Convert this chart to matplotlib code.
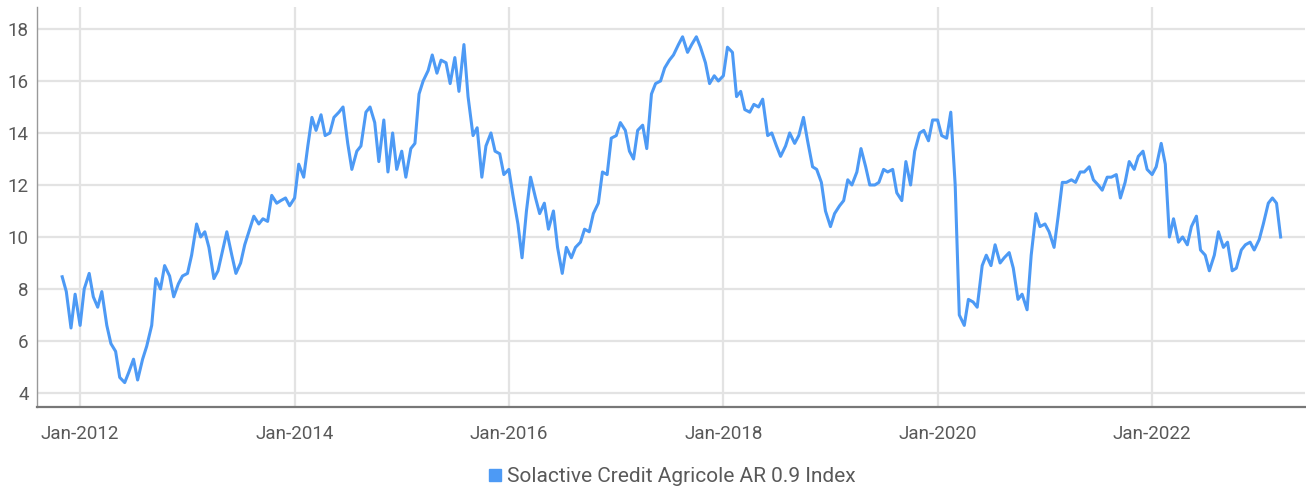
import numpy as np
import pandas as pd
import matplotlib
matplotlib.use("Agg")
import matplotlib.pyplot as plt
import matplotlib.dates as mdates
from matplotlib.lines import Line2D

# semi-monthly readings of the index level, Nov 2011 .. Mar 2023
vals_2011_2013 = [8.47, 7.9, 6.5, 7.8, 6.6, 8.0, 8.6, 7.7, 7.3, 7.9, 6.6, 5.9, 5.6, 4.6,
                  4.4, 4.8, 5.3, 4.5, 5.3, 5.8, 6.6, 8.4, 8.0, 8.9, 8.5, 7.7, 8.2, 8.5,
                  8.6, 9.3, 10.5, 10.0, 10.2, 9.6, 8.4, 8.7, 9.5, 10.2, 9.3, 8.6, 9.0,
                  9.7, 10.3, 10.8, 10.5, 10.7, 10.6, 11.6, 11.3, 11.4, 11.5]
vals_2014_2015 = [11.2, 11.5, 12.8, 12.3, 13.5, 14.6, 14.1, 14.7, 13.9, 14.0, 14.6, 14.8,
                  15.0, 13.6, 12.6, 13.3, 13.5, 14.8, 15.0, 14.4, 12.9, 14.5, 12.5, 14.0,
                  12.6, 13.3, 12.3, 13.4, 13.6, 15.5, 16.0, 16.4, 17.0, 16.3, 16.8, 16.7,
                  15.9, 16.9, 15.6, 17.4, 15.4, 13.9, 14.2, 12.3, 13.5, 14.0, 13.3, 13.2,
                  12.4, 12.6, 11.6, 10.5, 9.2, 11.0]
vals_2016_2017 = [12.3, 11.5, 10.9, 11.3, 10.3, 11.0, 9.6, 8.6, 9.6, 9.2, 9.6, 9.8, 10.3,
                  10.2, 10.9, 11.3, 12.5, 12.4, 13.8, 13.9, 14.4, 14.1, 13.3, 13.0, 14.1,
                  14.3, 13.4, 15.5, 15.9, 16.0, 16.5, 16.8, 17.0, 17.4, 17.7, 17.1, 17.4,
                  17.7, 17.3, 16.7, 15.9, 16.2, 16.0, 16.2, 17.3, 17.1, 15.4, 15.6, 14.9,
                  14.8, 15.1, 15.0, 15.3, 13.9]
vals_2018_2019 = [14.0, 13.5, 13.1, 13.5, 14.0, 13.6, 13.9, 14.6, 13.7, 12.7, 12.6, 12.1,
                  11.0, 10.4, 10.9, 11.2, 11.4, 12.2, 12.0, 12.5, 13.4, 12.7, 12.0, 12.0,
                  12.1, 12.6, 12.5, 12.6, 11.7, 11.4, 12.9, 12.0, 13.3, 14.0, 14.1, 13.7,
                  14.5, 14.5, 13.9, 13.8, 14.8]
vals_2020_2021 = [12.0, 7.0, 6.6, 7.6, 7.5, 7.3, 8.9, 9.3, 8.9, 9.7, 9.0, 9.2, 9.4, 8.8,
                  7.6, 7.8, 7.2, 9.3, 10.9, 10.4, 10.5, 10.2, 9.6, 10.8, 12.1, 12.1, 12.2,
                  12.1, 12.5, 12.5, 12.7, 12.2, 12.0, 11.8, 12.3, 12.3, 12.4, 11.5, 12.1,
                  12.9]
vals_2022_2023 = [12.6, 13.1, 13.3, 12.6, 12.4, 12.7, 13.6, 12.8, 10.0, 10.7, 9.8, 10.0,
                  9.7, 10.4, 10.8, 9.5, 9.3, 8.7, 9.3, 10.2, 9.6, 9.8, 8.7, 8.8, 9.5, 9.7,
                  9.8, 9.5, 9.9, 10.5, 11.3, 11.5, 11.3, 10.0]

values = (vals_2011_2013 + vals_2014_2015 + vals_2016_2017 + vals_2018_2019
          + vals_2020_2021 + vals_2022_2023)
dates = pd.date_range("2011-11-01", periods=len(values), freq="SMS")

y_ticks = [4, 6, 8, 10, 12, 14, 16, 18]
x_ticks = pd.to_datetime(["2012-01-01", "2014-01-01", "2016-01-01", "2018-01-01",
                          "2020-01-01", "2022-01-01"])
series_name = "Solactive Credit Agricole AR 0.9 Index"

line_col = "#4d9af5"
txt_col = "#595959"
plt.rcParams["font.family"] = ["Roboto", "DejaVu Sans"]

fig = plt.figure(figsize=(13.06, 4.91), dpi=100)
ax = fig.add_axes([0.0283, 0.171, 0.9707, 0.815])

ax.plot(dates, values, color=line_col, lw=2.2, zorder=3, solid_joinstyle="round")

ax.set_xlim(pd.Timestamp("2011-08-07"), pd.Timestamp("2023-06-05"))
ax.set_ylim(3.46, 18.85)
ax.set_yticks(y_ticks)
ax.set_xticks(x_ticks)
ax.xaxis.set_major_formatter(mdates.DateFormatter("%b-%Y"))
ax.grid(True, color="#e3e3e3", lw=1.6)
ax.set_axisbelow(True)
ax.tick_params(length=0, labelsize=13.5, labelcolor=txt_col)
ax.tick_params(axis="x", pad=13)
ax.tick_params(axis="y", pad=6)
for s in ["top", "right"]:
    ax.spines[s].set_visible(False)
ax.spines["bottom"].set_color("#777777")
ax.spines["bottom"].set_linewidth(1.6)
ax.spines["left"].set_color("#999999")
ax.spines["left"].set_linewidth(1.0)

handle = Line2D([], [], ls="none", marker="s", ms=8, color=line_col)
fig.legend([handle], [series_name], loc="center", bbox_to_anchor=(670 / 1306, 1 - 477 / 491),
           frameon=False, fontsize=15, labelcolor=txt_col, handletextpad=0.1,
           handlelength=1.0)

fig.savefig("out.png", dpi=100)
